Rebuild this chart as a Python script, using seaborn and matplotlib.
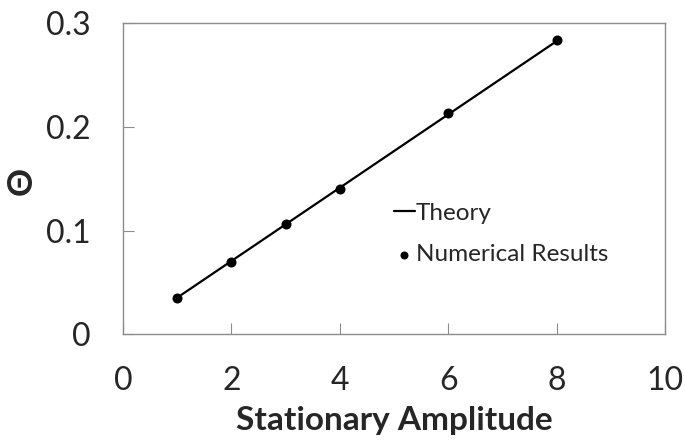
import matplotlib
matplotlib.use("Agg")
import matplotlib.pyplot as plt
import seaborn as sns
import pandas as pd

# Data
amplitude = [1, 2, 3, 4, 6, 8]
theta_numerical = [0.0345, 0.070, 0.1065, 0.1405, 0.213, 0.284]
theory_x = [1, 8]
theory_y = [0.0353, 0.2825]
x_ticks = [0, 2, 4, 6, 8, 10]
y_ticks = [0, 0.1, 0.2, 0.3]
y_tick_labels = ["0", "0.1", "0.2", "0.3"]

sns.set_style("white")
plt.rcParams['font.family'] = ['Lato', 'DejaVu Sans']

fig = plt.figure(figsize=(6.85, 4.44), dpi=100)
ax = fig.add_axes([0.1796, 0.2471, 0.7912, 0.7011])

df_theory = pd.DataFrame({"x": theory_x, "y": theory_y})
df_num = pd.DataFrame({"x": amplitude, "y": theta_numerical})

sns.lineplot(data=df_theory, x="x", y="y", ax=ax, color="black", linewidth=1.6,
             label="Theory")
sns.scatterplot(data=df_num, x="x", y="y", ax=ax, color="black", s=52,
                edgecolor="black", linewidth=0, label="Numerical Results", zorder=3)

ax.set_xlim(0, 10)
ax.set_ylim(0, 0.3)
ax.set_xticks(x_ticks)
ax.set_xticklabels([str(t) for t in x_ticks])
ax.set_yticks(y_ticks)
ax.set_yticklabels(y_tick_labels)

for sp in ax.spines.values():
    sp.set_visible(True)
    sp.set_color("#8c8c8c")
    sp.set_linewidth(1.0)

ax.tick_params(axis="both", direction="in", length=8, width=0.8, color="#8c8c8c",
               labelsize=23, pad=23, bottom=True, left=True)

ax.set_xlabel("Stationary Amplitude", fontsize=24, fontweight="bold", labelpad=7)
ax.set_ylabel("Θ", fontsize=25, fontweight="bold")
ax.yaxis.label.set_va("center")
ax.yaxis.set_label_coords((22 - 123) / 542, (334.3 - 181) / 311.3)

leg = ax.legend(loc="center left", bbox_to_anchor=(394 / 685, 1 - 234 / 444),
                bbox_transform=fig.transFigure, frameon=False, fontsize=17.5,
                handlelength=0.85, handletextpad=0.05, labelspacing=0.85,
                borderpad=0, borderaxespad=0, markerscale=0.8)

fig.savefig("out.png", dpi=100)
